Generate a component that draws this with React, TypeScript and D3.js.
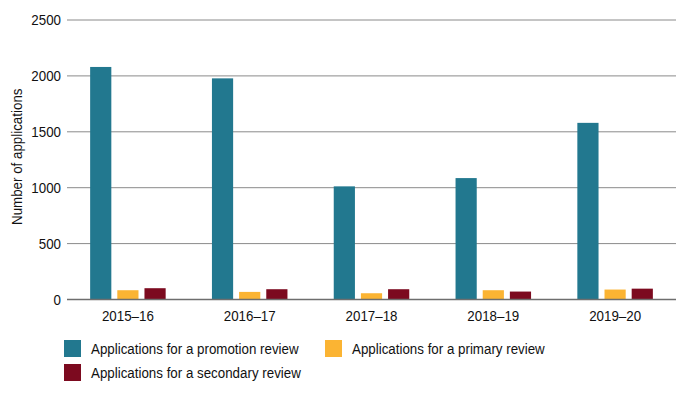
import { useRef, useEffect } from 'react';
import * as d3 from 'd3';

const years = ['2015–16', '2016–17', '2017–18', '2018–19', '2019–20'];
const promotion = [2080, 1978, 1012, 1086, 1580];
const primary = [83, 68, 56, 83, 89];
const secondary = [101, 92, 92, 71, 97];
const yTicks = [0, 500, 1000, 1500, 2000, 2500];

const seriesNames = [
  'Applications for a promotion review',
  'Applications for a primary review',
  'Applications for a secondary review',
];
const colors = ['#22788f', '#fbb433', '#7c0a1f'];

const W = 680;
const H = 395;
const FONT = '"Liberation Sans", Arial, sans-serif';
const SX = 0.89; // narrow the font to look like a condensed face

export default function App() {
  const svgRef = useRef<SVGSVGElement>(null);

  useEffect(() => {
    if (!svgRef.current) return;
    const svg = d3.select(svgRef.current);
    svg.selectAll('*').remove();

    const margin = { top: 20, right: 4, bottom: 95.5, left: 67 };
    const innerW = W - margin.left - margin.right;
    const innerH = H - margin.top - margin.bottom;
    const g = svg.append('g').attr('transform', `translate(${margin.left},${margin.top})`);

    const x0 = d3.scaleBand().domain(years).range([0, innerW]).paddingInner(0.38).paddingOuter(0.19);
    const keys = ['promotion', 'primary', 'secondary'];
    const x1 = d3.scaleBand().domain(keys).range([0, x0.bandwidth()]).paddingInner(0.22);
    const y = d3.scaleLinear().domain([0, 2500]).range([innerH, 0]);

    const label = (
      parent: d3.Selection<any, any, any, any>,
      x: number,
      yy: number,
      text: string,
      anchor: string,
      rotate = 0,
    ) =>
      parent.append('text')
        .attr('transform', `translate(${x},${yy})${rotate ? ` rotate(${rotate})` : ''} scale(${SX},1)`)
        .attr('text-anchor', anchor)
        .attr('dy', '0.35em')
        .attr('font-family', FONT)
        .attr('font-size', 15)
        .attr('fill', '#111')
        .text(text);

    // grid
    g.selectAll('.grid')
      .data(yTicks.filter((t) => t > 0))
      .enter()
      .append('line')
      .attr('x1', 0).attr('x2', innerW)
      .attr('y1', (d) => y(d)).attr('y2', (d) => y(d))
      .attr('stroke', '#8a8a8a')
      .attr('stroke-width', 1);

    const rows = years.map((yr, i) => ({
      yr,
      vals: [promotion[i], primary[i], secondary[i]],
    }));

    const grp = g.selectAll('.grp')
      .data(rows)
      .enter()
      .append('g')
      .attr('transform', (d) => `translate(${x0(d.yr)},0)`);

    grp.selectAll('rect')
      .data((d) => d.vals.map((v, k) => ({ v, k })))
      .enter()
      .append('rect')
      .attr('x', (d) => x1(keys[d.k])!)
      .attr('width', x1.bandwidth())
      .attr('y', (d) => y(d.v))
      .attr('height', (d) => innerH - y(d.v))
      .attr('fill', (d) => colors[d.k]);

    // baseline
    g.append('line')
      .attr('x1', 0).attr('x2', innerW)
      .attr('y1', y(0)).attr('y2', y(0))
      .attr('stroke', '#6e6e6e')
      .attr('stroke-width', 1.5);

    // y tick labels
    yTicks.forEach((t) => label(g, -6, y(t), String(t), 'end'));

    // x labels
    years.forEach((yr) => label(g, x0(yr)! + x0.bandwidth() / 2, innerH + 16, yr, 'middle'));

    // y axis title
    label(svg, 17, margin.top + innerH / 2 - 3, 'Number of applications', 'middle', -90);

    // legend
    const legendPos = [
      { x: 64, y: 340 },
      { x: 325, y: 340 },
      { x: 64, y: 364 },
    ];
    seriesNames.forEach((name, i) => {
      const p = legendPos[i];
      svg.append('rect')
        .attr('x', p.x).attr('y', p.y)
        .attr('width', 17).attr('height', 17)
        .attr('fill', colors[i]);
      label(svg, p.x + 27, p.y + 8.5, name, 'start');
    });
  }, []);

  return (
    <svg
      ref={svgRef}
      width={W}
      height={H}
      style={{ position: 'absolute', left: 0, top: 0, background: '#fff' }}
    />
  );
}
